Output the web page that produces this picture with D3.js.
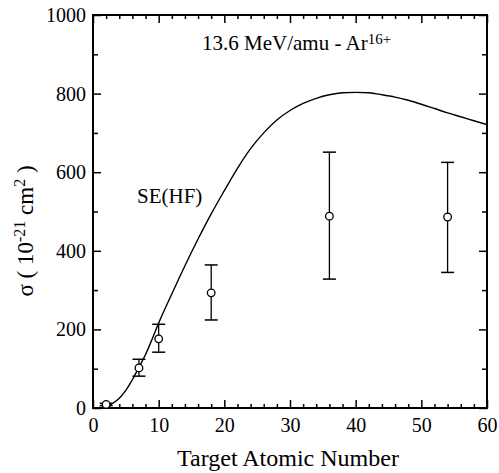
<!DOCTYPE html>
<html>
<head>
<meta charset="utf-8">
<script src="https://cdn.jsdelivr.net/npm/d3@7"></script>
<style>
  html, body { margin: 0; padding: 0; background: #fff; }
  svg { display: block; }
</style>
</head>
<body>
<svg id="chart" width="499" height="473"></svg>
<script>
// ---- data ----
const curveZ = [2, 3, 4, 5, 6, 7, 8, 9, 10, 12, 14, 16, 18, 20, 22, 24, 26, 28, 30, 32, 34, 36, 38, 40, 42, 44, 46, 48, 50, 52, 54, 56, 58, 60];
const curveSigma = [4, 12, 25, 45, 72, 104, 136, 175, 216, 290, 362, 430, 494, 553, 610, 660, 700, 733, 757, 775, 788, 797, 802, 803, 802, 797, 791, 783, 773, 762, 751, 741, 731, 721];
const expZ = [2, 7, 10, 18, 36, 54];
const expSigma = [9, 102, 176, 293, 488, 486];
const expLow = [6, 81, 142, 224, 328, 345];
const expHigh = [12, 124, 213, 364, 651, 625];
const xMajorTicks = [0, 10, 20, 30, 40, 50, 60];
const yMajorTicks = [0, 200, 400, 600, 800, 1000];

// ---- layout ----
const FONT = "Liberation Serif";
const svg = d3.select("#chart");
const L = 93, R = 487, T = 15, B = 408;
const x = d3.scaleLinear().domain([0, 60]).range([L, R]);
const y = d3.scaleLinear().domain([0, 1000]).range([B, T]);

const xMinor = d3.range(0, 61, 2).filter(v => v % 10 !== 0);
const yMinor = d3.range(100, 1000, 200);

function styleAxis(g) {
  g.attr("font-family", FONT).attr("font-size", 20);
  g.select(".domain").remove();
  g.selectAll("line").attr("stroke", "#000").attr("stroke-width", 1.5);
  g.selectAll("text").attr("fill", "#000");
}

// bottom
svg.append("g").attr("transform", `translate(0,${B})`)
  .call(d3.axisBottom(x).tickValues(xMajorTicks).tickSize(-8).tickPadding(10).tickFormat(d3.format("d")))
  .call(styleAxis);
svg.append("g").attr("transform", `translate(0,${B})`)
  .call(d3.axisBottom(x).tickValues(xMinor).tickSize(-4).tickFormat(""))
  .call(styleAxis);
// top
svg.append("g").attr("transform", `translate(0,${T})`)
  .call(d3.axisTop(x).tickValues(xMajorTicks).tickSize(-8).tickFormat(""))
  .call(styleAxis);
svg.append("g").attr("transform", `translate(0,${T})`)
  .call(d3.axisTop(x).tickValues(xMinor).tickSize(-4).tickFormat(""))
  .call(styleAxis);
// left
svg.append("g").attr("transform", `translate(${L},0)`)
  .call(d3.axisLeft(y).tickValues(yMajorTicks).tickSize(-8).tickPadding(7).tickFormat(d3.format("d")))
  .call(styleAxis);
svg.append("g").attr("transform", `translate(${L},0)`)
  .call(d3.axisLeft(y).tickValues(yMinor).tickSize(-5).tickFormat(""))
  .call(styleAxis);
// right
svg.append("g").attr("transform", `translate(${R},0)`)
  .call(d3.axisRight(y).tickValues(yMajorTicks).tickSize(-8).tickFormat(""))
  .call(styleAxis);
svg.append("g").attr("transform", `translate(${R},0)`)
  .call(d3.axisRight(y).tickValues(yMinor).tickSize(-5).tickFormat(""))
  .call(styleAxis);

// frame
svg.append("rect").attr("x", L).attr("y", T).attr("width", R - L).attr("height", B - T)
  .attr("fill", "none").attr("stroke", "#000").attr("stroke-width", 2);

// theory curve
const line = d3.line().x((d, i) => x(curveZ[i])).y(d => y(d)).curve(d3.curveMonotoneX);
svg.append("path").datum(curveSigma).attr("d", line)
  .attr("fill", "none").attr("stroke", "#000").attr("stroke-width", 1.4);

// experimental points with error bars
const capW = 6.5;
const pts = svg.append("g");
expZ.forEach((z, i) => {
  const cx = x(z);
  pts.append("line").attr("x1", cx).attr("x2", cx).attr("y1", y(expLow[i])).attr("y2", y(expHigh[i]))
    .attr("stroke", "#000").attr("stroke-width", 1.3);
  pts.append("line").attr("x1", cx - capW).attr("x2", cx + capW).attr("y1", y(expLow[i])).attr("y2", y(expLow[i]))
    .attr("stroke", "#000").attr("stroke-width", 1.5);
  pts.append("line").attr("x1", cx - capW).attr("x2", cx + capW).attr("y1", y(expHigh[i])).attr("y2", y(expHigh[i]))
    .attr("stroke", "#000").attr("stroke-width", 1.5);
  pts.append("circle").attr("cx", cx).attr("cy", y(expSigma[i])).attr("r", 3.8)
    .attr("fill", "#fff").attr("stroke", "#000").attr("stroke-width", 1.3);
});

// labels
const title = svg.append("text").attr("x", 202).attr("y", 50).attr("font-family", FONT).attr("font-size", 21);
title.append("tspan").text("13.6 MeV/amu - Ar");
title.append("tspan").attr("dy", -6).attr("font-size", 15).text("16+");

svg.append("text").attr("x", 137).attr("y", 203).attr("font-family", FONT).attr("font-size", 21).text("SE(HF)");

svg.append("text").attr("x", (L + R) / 2 - 2).attr("y", 466).attr("text-anchor", "middle")
  .attr("font-family", FONT).attr("font-size", 24).text("Target Atomic Number");

const yl = svg.append("text").attr("transform", "translate(33,231) rotate(-90)")
  .attr("text-anchor", "middle").attr("font-family", FONT).attr("font-size", 23);
yl.append("tspan").text("σ ( 10");
yl.append("tspan").attr("dy", -8).attr("font-size", 16).text("-21");
yl.append("tspan").attr("dy", 8).text(" cm");
yl.append("tspan").attr("dy", -8).attr("font-size", 16).text("2");
yl.append("tspan").attr("dy", 8).text(" )");
</script>
</body>
</html>
